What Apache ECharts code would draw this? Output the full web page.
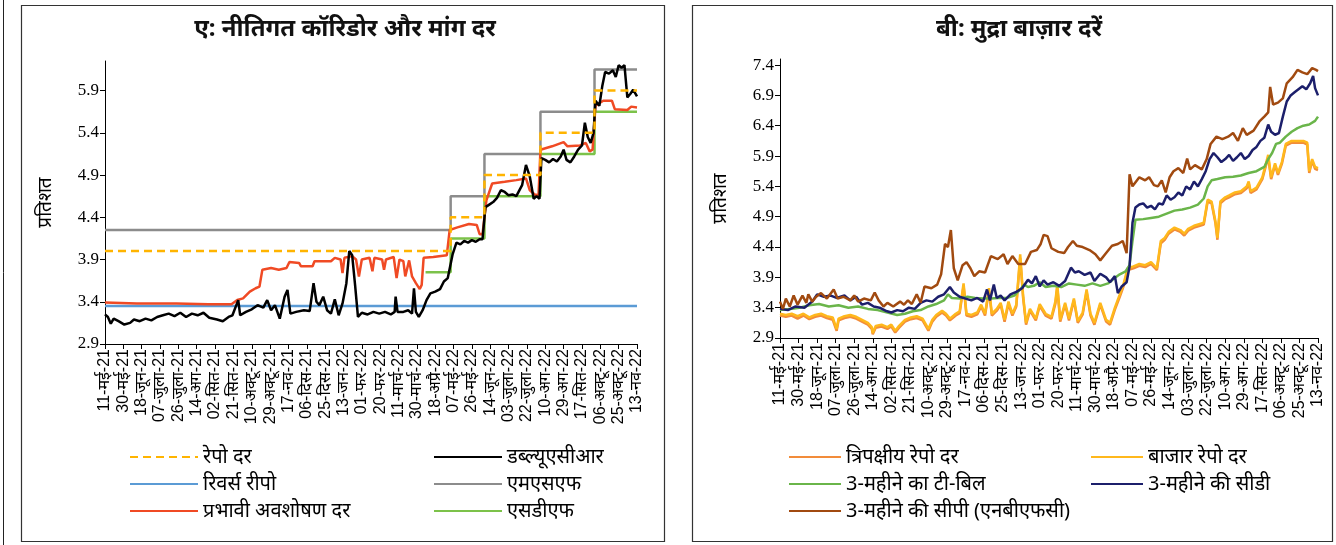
<!DOCTYPE html>
<html>
<head>
<meta charset="utf-8">
<script src="https://cdn.jsdelivr.net/npm/echarts@6/dist/echarts.min.js"></script>
<style>
  html, body { margin: 0; padding: 0; background: #fff; }
  #chart { width: 1336px; height: 545px; }
</style>
</head>
<body>
<div id="chart"></div>
<script>
// ---- Axis: one category per calendar day, 11 May 2021 – 13 Nov 2022 ----
const startDate = '2021-05-11';
const dayCount = 552;
const hindiMonths = ['जन', 'फर', 'मार्च', 'अप्रै', 'मई', 'जून', 'जुला', 'अग', 'सित', 'अक्टू', 'नव', 'दिस'];
const yTicksA = { min: 2.9, max: 6.25, step: 0.5 };
const yTicksB = { min: 2.9, max: 7.5, step: 0.5 };

// ---- Panel A: policy corridor (day offset, rate) ----
const repoRate      = [[0, 4.0], [358, 4.4], [393, 4.9], [451, 5.4], [507, 5.9], [551, 5.9]];
const reverseRepo   = [[0, 3.35], [551, 3.35]];
const msfRate       = [[0, 4.25], [358, 4.65], [393, 5.15], [451, 5.65], [507, 6.15], [551, 6.15]];
const sdfRate       = [[332, 3.75], [358, 4.15], [393, 4.65], [451, 5.15], [507, 5.65], [551, 5.65]];

// Effective absorption rate
const absorptionRate = [
  [0, 3.39], [33, 3.38], [74, 3.38], [107, 3.37], [131, 3.37], [137, 3.42], [143, 3.44], [150, 3.52],
  [156, 3.56], [160, 3.58], [163, 3.78], [172, 3.80], [180, 3.78], [188, 3.80], [191, 3.87], [201, 3.86],
  [203, 3.82], [215, 3.82], [217, 3.88], [234, 3.88], [238, 3.92], [244, 3.90], [246, 3.74], [248, 3.92],
  [256, 3.94], [260, 3.90], [263, 3.70], [266, 3.90], [274, 3.92], [277, 3.76], [279, 3.92], [287, 3.90],
  [289, 3.78], [291, 3.90], [299, 3.93], [302, 3.68], [305, 3.90], [309, 3.88], [311, 3.70], [315, 3.89],
  [318, 3.70], [322, 3.62], [326, 3.55], [328, 3.60], [330, 3.92], [340, 3.93], [354, 3.95], [357, 4.25],
  [365, 4.28], [377, 4.32], [385, 4.31], [388, 4.20], [391, 4.20], [395, 4.60], [401, 4.80], [414, 4.82],
  [426, 4.84], [436, 4.86], [440, 4.72], [445, 4.67], [449, 4.66], [451, 5.20], [463, 5.24], [475, 5.29],
  [479, 5.24], [492, 5.25], [498, 5.28], [502, 5.18], [505, 5.20], [508, 5.72], [516, 5.78], [525, 5.78],
  [528, 5.68], [541, 5.67], [545, 5.71], [551, 5.70]
];

// Weighted average call rate
const wacr = [
  [0, 3.25], [3, 3.22], [6, 3.14], [9, 3.20], [14, 3.17], [20, 3.13], [26, 3.15], [30, 3.19], [36, 3.17],
  [42, 3.20], [48, 3.18], [54, 3.22], [60, 3.24], [66, 3.26], [72, 3.23], [78, 3.27], [84, 3.22], [90, 3.26],
  [96, 3.24], [102, 3.27], [108, 3.21], [116, 3.19], [122, 3.17], [128, 3.22], [132, 3.24], [138, 3.42],
  [140, 3.24], [146, 3.28], [152, 3.31], [158, 3.36], [164, 3.33], [168, 3.42], [172, 3.30], [176, 3.36],
  [181, 3.20], [186, 3.46], [189, 3.54], [192, 3.26], [198, 3.28], [206, 3.30], [212, 3.29], [216, 3.62],
  [219, 3.40], [222, 3.36], [226, 3.46], [230, 3.30], [234, 3.26], [238, 3.43], [242, 3.24], [246, 3.38],
  [250, 3.62], [253, 4.00], [256, 3.95], [259, 3.60], [262, 3.22], [266, 3.27], [272, 3.25], [278, 3.28],
  [284, 3.26], [290, 3.28], [296, 3.25], [300, 3.28], [301, 3.46], [303, 3.28], [309, 3.28], [314, 3.30],
  [318, 3.26], [320, 3.56], [322, 3.28], [325, 3.22], [329, 3.30], [333, 3.42], [337, 3.50], [342, 3.52],
  [347, 3.55], [351, 3.64], [355, 3.68], [357, 3.70], [360, 3.96], [364, 4.10], [368, 4.08], [372, 4.12],
  [376, 4.10], [380, 4.13], [384, 4.11], [388, 4.14], [391, 4.14], [394, 4.52], [398, 4.55], [402, 4.58],
  [406, 4.63], [410, 4.72], [414, 4.70], [418, 4.66], [422, 4.67], [426, 4.65], [432, 4.78], [436, 5.02],
  [440, 4.88], [444, 4.62], [447, 4.65], [450, 4.62], [452, 5.10], [456, 5.08], [460, 5.05], [464, 5.09],
  [468, 5.06], [472, 5.12], [475, 5.20], [478, 5.08], [482, 5.05], [486, 5.12], [490, 5.20], [494, 5.25],
  [497, 5.52], [500, 5.35], [503, 5.28], [506, 5.40], [508, 5.78], [512, 5.72], [515, 5.95], [518, 6.12],
  [522, 6.10], [526, 6.14], [529, 6.06], [532, 6.20], [535, 6.17], [538, 6.20], [541, 5.82], [544, 5.86],
  [547, 5.91], [551, 5.83]
];

// ---- Panel B: money market rates (day offset, rate) ----
const cp3m = [
  [0, 3.50], [3, 3.38], [6, 3.55], [10, 3.42], [14, 3.60], [18, 3.45], [23, 3.60], [27, 3.48], [29, 3.62],
  [33, 3.50], [37, 3.58], [42, 3.64], [48, 3.55], [55, 3.70], [59, 3.55], [65, 3.58], [72, 3.52], [76, 3.60],
  [80, 3.50], [86, 3.55], [93, 3.52], [97, 3.65], [101, 3.52], [106, 3.42], [110, 3.48], [116, 3.42],
  [123, 3.50], [127, 3.45], [131, 3.52], [135, 3.46], [140, 3.62], [144, 3.48], [148, 3.75], [155, 3.72],
  [161, 3.78], [165, 3.95], [169, 4.45], [172, 4.40], [175, 4.68], [178, 4.05], [182, 3.85], [187, 4.10],
  [191, 4.15], [195, 4.05], [199, 3.92], [204, 4.00], [210, 3.98], [216, 4.25], [223, 4.20], [229, 4.28],
  [233, 4.12], [238, 4.25], [244, 4.12], [251, 4.12], [257, 4.32], [263, 4.35], [267, 4.45], [270, 4.60],
  [274, 4.58], [278, 4.38], [285, 4.32], [291, 4.30], [295, 4.40], [300, 4.50], [304, 4.42], [310, 4.40],
  [317, 4.35], [323, 4.28], [328, 4.18], [334, 4.30], [340, 4.42], [346, 4.45], [351, 4.50], [355, 4.30],
  [358, 5.60], [361, 5.40], [368, 5.55], [374, 5.50], [378, 5.55], [383, 5.42], [387, 5.40], [391, 5.50],
  [395, 5.30], [399, 5.55], [403, 5.65], [408, 5.70], [413, 5.62], [417, 5.86], [420, 5.68], [425, 5.75],
  [432, 5.68], [437, 5.85], [441, 6.10], [447, 6.22], [453, 6.18], [459, 6.22], [464, 6.28], [469, 6.15],
  [474, 6.36], [478, 6.25], [485, 6.32], [491, 6.47], [496, 6.55], [500, 6.62], [502, 7.04], [505, 6.75],
  [510, 6.78], [515, 6.85], [519, 7.10], [525, 7.20], [530, 7.32], [535, 7.28], [540, 7.25], [545, 7.35],
  [549, 7.32], [551, 7.30]
];

const cd3m = [
  [0, 3.38], [8, 3.36], [16, 3.42], [25, 3.40], [33, 3.50], [38, 3.62], [45, 3.58], [52, 3.60], [58, 3.56],
  [66, 3.60], [72, 3.52], [78, 3.58], [84, 3.45], [90, 3.48], [96, 3.42], [102, 3.40], [108, 3.35], [114, 3.32],
  [120, 3.36], [126, 3.34], [132, 3.40], [138, 3.38], [144, 3.48], [150, 3.52], [156, 3.50], [162, 3.58],
  [168, 3.62], [174, 3.74], [178, 3.65], [184, 3.58], [190, 3.55], [196, 3.52], [202, 3.56], [208, 3.50],
  [212, 3.70], [215, 3.52], [219, 3.78], [222, 3.56], [226, 3.60], [230, 3.52], [236, 3.62], [242, 3.66],
  [248, 3.72], [254, 3.86], [258, 3.80], [262, 3.92], [266, 3.75], [270, 3.85], [274, 3.78], [280, 3.82],
  [286, 3.76], [292, 3.84], [298, 4.06], [302, 3.98], [306, 4.00], [312, 3.94], [318, 3.98], [322, 3.84],
  [328, 3.96], [334, 3.90], [338, 3.82], [343, 3.92], [346, 3.64], [350, 3.75], [355, 3.82], [358, 4.08],
  [361, 4.80], [364, 5.05], [368, 5.10], [372, 5.12], [376, 5.05], [380, 5.08], [384, 5.02], [388, 5.12],
  [392, 5.10], [396, 5.25], [400, 5.18], [404, 5.22], [408, 5.30], [412, 5.25], [416, 5.40], [420, 5.35],
  [424, 5.48], [428, 5.40], [432, 5.52], [436, 5.65], [440, 5.85], [444, 5.95], [448, 5.88], [452, 5.80],
  [456, 5.85], [460, 5.92], [464, 5.82], [468, 5.88], [472, 5.95], [476, 5.85], [480, 5.90], [484, 6.00],
  [488, 6.05], [492, 6.15], [496, 6.20], [500, 6.42], [503, 6.30], [507, 6.25], [511, 6.28], [515, 6.55],
  [519, 6.80], [523, 6.90], [527, 6.95], [531, 7.00], [535, 7.05], [539, 7.00], [543, 7.10], [546, 7.22],
  [548, 7.02], [551, 6.90]
];

const tbill3m = [
  [0, 3.36], [10, 3.38], [20, 3.40], [30, 3.44], [40, 3.46], [50, 3.42], [60, 3.44], [70, 3.40], [80, 3.42],
  [90, 3.38], [100, 3.36], [110, 3.32], [120, 3.28], [128, 3.30], [136, 3.34], [144, 3.36], [152, 3.42],
  [160, 3.46], [168, 3.52], [172, 3.62], [176, 3.56], [184, 3.55], [192, 3.58], [200, 3.56], [208, 3.55],
  [216, 3.55], [224, 3.56], [232, 3.56], [240, 3.60], [246, 3.70], [250, 3.78], [254, 3.74], [260, 3.76],
  [266, 3.82], [272, 3.74], [280, 3.76], [288, 3.74], [296, 3.80], [304, 3.78], [312, 3.76], [320, 3.80],
  [328, 3.76], [336, 3.80], [342, 3.88], [348, 3.95], [354, 4.00], [358, 4.10], [361, 4.50], [364, 4.85],
  [372, 4.86], [380, 4.88], [388, 4.90], [396, 4.95], [404, 5.00], [412, 5.02], [420, 5.05], [428, 5.10],
  [434, 5.20], [438, 5.40], [442, 5.50], [448, 5.52], [456, 5.55], [464, 5.56], [472, 5.58], [480, 5.62],
  [488, 5.65], [496, 5.72], [500, 5.85], [504, 5.95], [508, 6.10], [512, 6.12], [518, 6.22], [524, 6.30],
  [530, 6.36], [536, 6.40], [542, 6.42], [548, 6.48], [551, 6.55]
];

const marketRepo = [
  [0, 3.30], [6, 3.28], [12, 3.30], [18, 3.26], [24, 3.30], [30, 3.24], [36, 3.28], [42, 3.30], [48, 3.26],
  [54, 3.24], [58, 3.05], [60, 3.22], [66, 3.26], [72, 3.28], [78, 3.25], [84, 3.20], [90, 3.15], [94, 3.08],
  [95, 2.98], [98, 3.10], [104, 3.12], [110, 3.08], [114, 3.12], [118, 3.02], [122, 3.10], [128, 3.20],
  [134, 3.24], [140, 3.26], [146, 3.22], [152, 3.05], [156, 3.20], [160, 3.28], [166, 3.35], [170, 3.30],
  [174, 3.22], [180, 3.30], [184, 3.34], [188, 3.80], [191, 3.30], [196, 3.28], [202, 3.32], [206, 3.45],
  [210, 3.30], [214, 3.72], [217, 3.30], [222, 3.38], [226, 3.48], [230, 3.20], [234, 3.50], [238, 3.30],
  [242, 3.45], [246, 4.28], [249, 3.60], [252, 3.15], [256, 3.38], [262, 3.22], [266, 3.46], [272, 3.30],
  [278, 3.25], [282, 3.50], [284, 3.78], [287, 3.20], [292, 3.48], [296, 3.22], [301, 3.55], [305, 3.18],
  [310, 3.32], [314, 3.70], [318, 3.30], [322, 3.15], [328, 3.48], [334, 3.20], [338, 3.15], [343, 3.40],
  [348, 3.62], [352, 3.80], [356, 4.05], [362, 4.08], [368, 4.12], [374, 4.10], [380, 4.15], [386, 4.05],
  [390, 4.50], [394, 4.55], [398, 4.65], [404, 4.72], [410, 4.68], [414, 4.62], [418, 4.70], [424, 4.75],
  [430, 4.78], [434, 4.80], [438, 5.18], [442, 5.15], [446, 4.82], [448, 4.55], [451, 5.15], [456, 5.22],
  [460, 5.25], [466, 5.30], [472, 5.32], [478, 5.40], [480, 5.48], [482, 5.32], [488, 5.38], [494, 5.55],
  [500, 5.92], [503, 5.55], [507, 5.78], [510, 5.62], [514, 5.80], [518, 6.10], [524, 6.15], [530, 6.15],
  [536, 6.15], [540, 6.12], [542, 5.65], [545, 5.85], [548, 5.72], [551, 5.70]
];

const triPartyRepo = [
  [0, 3.27], [6, 3.25], [12, 3.27], [18, 3.22], [24, 3.27], [30, 3.21], [36, 3.25], [42, 3.27], [48, 3.23],
  [54, 3.20], [58, 3.02], [60, 3.19], [66, 3.23], [72, 3.25], [78, 3.22], [84, 3.17], [90, 3.12], [94, 3.05],
  [95, 2.96], [98, 3.07], [104, 3.09], [110, 3.05], [114, 3.09], [118, 2.99], [122, 3.07], [128, 3.17],
  [134, 3.21], [140, 3.23], [146, 3.19], [152, 3.02], [156, 3.17], [160, 3.25], [166, 3.32], [170, 3.27],
  [174, 3.19], [180, 3.27], [184, 3.31], [188, 3.76], [191, 3.27], [196, 3.25], [202, 3.29], [206, 3.42],
  [210, 3.27], [214, 3.68], [217, 3.27], [222, 3.35], [226, 3.45], [230, 3.17], [234, 3.46], [238, 3.27],
  [242, 3.42], [246, 4.22], [249, 3.56], [252, 3.12], [256, 3.35], [262, 3.19], [266, 3.43], [272, 3.27],
  [278, 3.22], [282, 3.46], [284, 3.74], [287, 3.17], [292, 3.45], [296, 3.19], [301, 3.52], [305, 3.15],
  [310, 3.29], [314, 3.66], [318, 3.27], [322, 3.12], [328, 3.45], [334, 3.17], [338, 3.12], [343, 3.37],
  [348, 3.58], [352, 3.76], [356, 4.02], [362, 4.05], [368, 4.09], [374, 4.07], [380, 4.12], [386, 4.02],
  [390, 4.46], [394, 4.52], [398, 4.62], [404, 4.69], [410, 4.65], [414, 4.59], [418, 4.67], [424, 4.72],
  [430, 4.75], [434, 4.77], [438, 5.15], [442, 5.12], [446, 4.79], [448, 4.52], [451, 5.12], [456, 5.19],
  [460, 5.22], [466, 5.27], [472, 5.29], [478, 5.37], [480, 5.45], [482, 5.29], [488, 5.35], [494, 5.52],
  [500, 5.88], [503, 5.52], [507, 5.75], [510, 5.59], [514, 5.77], [518, 6.07], [524, 6.12], [530, 6.12],
  [536, 6.12], [540, 6.09], [542, 5.62], [545, 5.82], [548, 5.69], [551, 5.67]
];

// ---- Build the daily category list ----
const days = [];
{
  const [y, m, d] = startDate.split('-').map(Number);
  const t0 = Date.UTC(y, m - 1, d);
  for (let i = 0; i < dayCount; i++) {
    const dt = new Date(t0 + i * 86400000);
    days.push(dt.toISOString().slice(0, 10));
  }
}
function dayLabel(iso) {
  const [y, m, d] = iso.split('-');
  return d + '-' + hindiMonths[Number(m) - 1] + '-' + y.slice(2);
}

const devFont = '"Noto Sans", "Liberation Sans", sans-serif';
const tickFont = '"Liberation Sans", "Noto Sans", sans-serif';
const numFont = '"Liberation Serif", "DejaVu Serif", serif';

function makeXAxis(gridIndex) {
  return {
    type: 'category', gridIndex, data: days, boundaryGap: false,
    axisLine: { lineStyle: { color: '#000', width: 1 } },
    axisTick: { interval: 18, length: 5, lineStyle: { color: '#000' } },
    axisLabel: {
      interval: 18, rotate: 90, margin: 5, color: '#000',
      fontFamily: tickFont, fontSize: 16,
      formatter: dayLabel
    },
    splitLine: { show: false }
  };
}
function makeYAxis(gridIndex, ticks, nameGap) {
  return {
    type: 'value', gridIndex, min: ticks.min, max: ticks.max, interval: ticks.step,
    name: 'प्रतिशत', nameLocation: 'middle', nameGap, nameRotate: 90,
    nameTextStyle: { fontFamily: devFont, fontSize: 19, color: '#000' },
    axisLine: { show: true, lineStyle: { color: '#000', width: 1 } },
    axisTick: { show: true, length: 5, lineStyle: { color: '#000' } },
    axisLabel: {
      color: '#000', fontFamily: numFont, fontSize: 17, margin: 6,
      showMaxLabel: false,
      formatter: v => v.toFixed(1)
    },
    splitLine: { show: false }
  };
}
function line(name, data, color, axis, extra) {
  return Object.assign({
    name, type: 'line', data, xAxisIndex: axis, yAxisIndex: axis,
    showSymbol: false, symbol: 'none', smooth: false,
    lineStyle: { color, width: 2.5 }, itemStyle: { color },
    emphasis: { disabled: true }, animation: false
  }, extra || {});
}
function legendBlock(left, names, itemWidth) {
  return {
    left, top: 441, orient: 'vertical', data: names,
    itemWidth, itemHeight: 14, itemGap: 5, selectedMode: false,
    itemStyle: { opacity: 0 },
    textStyle: { fontFamily: devFont, fontSize: 20, color: '#000', lineHeight: 22 }
  };
}

const option = {
  backgroundColor: '#fff',
  animation: false,
  title: [
    { text: 'ए: नीतिगत कॉरिडोर और मांग दर', left: 340, top: 12, textAlign: 'center',
      textStyle: { fontFamily: devFont, fontSize: 24, fontWeight: 'bold', color: '#111' } },
    { text: 'बी: मुद्रा बाज़ार दरें', left: 1014, top: 12, textAlign: 'center',
      textStyle: { fontFamily: devFont, fontSize: 24, fontWeight: 'bold', color: '#111' } }
  ],
  grid: [
    { left: 105, top: 61, width: 532, height: 283 },
    { left: 780, top: 59, width: 538, height: 279 }
  ],
  xAxis: [makeXAxis(0), makeXAxis(1)],
  yAxis: [makeYAxis(0, yTicksA, 50), makeYAxis(1, yTicksB, 50)],
  legend: [
    legendBlock(124, ['रेपो दर', 'रिवर्स रीपो', 'प्रभावी अवशोषण दर'], 68),
    legendBlock(428, ['डब्ल्यूएसीआर', 'एमएसएफ', 'एसडीएफ'], 68),
    legendBlock(783, ['त्रिपक्षीय रेपो दर', '3-महीने का टी-बिल', '3-महीने की सीपी (एनबीएफसी)'], 52),
    legendBlock(1085, ['बाजार रेपो दर', '3-महीने की सीडी'], 52)
  ],
  graphic: [
    { type: 'line', shape: { x1: 3.5, y1: 0, x2: 3.5, y2: 545 }, style: { stroke: '#222', lineWidth: 1 } },
    { type: 'rect', shape: { x: 21.5, y: 5.5, width: 643, height: 536 }, style: { fill: 'none', stroke: '#333', lineWidth: 1.2 } },
    { type: 'rect', shape: { x: 692.5, y: 5.5, width: 640, height: 536 }, style: { fill: 'none', stroke: '#333', lineWidth: 1.2 } }
  ],
  series: [
    line('रिवर्स रीपो', reverseRepo, '#5B9BD5', 0),
    line('एमएसएफ', msfRate, '#8C8C8C', 0, { step: 'end' }),
    line('एसडीएफ', sdfRate, '#7CC24A', 0, { step: 'end' }),
    line('प्रभावी अवशोषण दर', absorptionRate, '#F04A24', 0),
    line('डब्ल्यूएसीआर', wacr, '#000000', 0),
    line('रेपो दर', repoRate, '#FFB400', 0, { step: 'end', lineStyle: { color: '#FFB400', width: 2.5, type: [8, 5] } }),

    line('त्रिपक्षीय रेपो दर', triPartyRepo, '#F28C3A', 1),
    line('बाजार रेपो दर', marketRepo, '#FFB81C', 1),
    line('3-महीने का टी-बिल', tbill3m, '#6AB54A', 1),
    line('3-महीने की सीडी', cd3m, '#1C1F6B', 1),
    line('3-महीने की सीपी (एनबीएफसी)', cp3m, '#A14A10', 1)
  ]
};

const chart = echarts.init(document.getElementById('chart'), null, { renderer: 'canvas' });
chart.setOption(option);
</script>
</body>
</html>
